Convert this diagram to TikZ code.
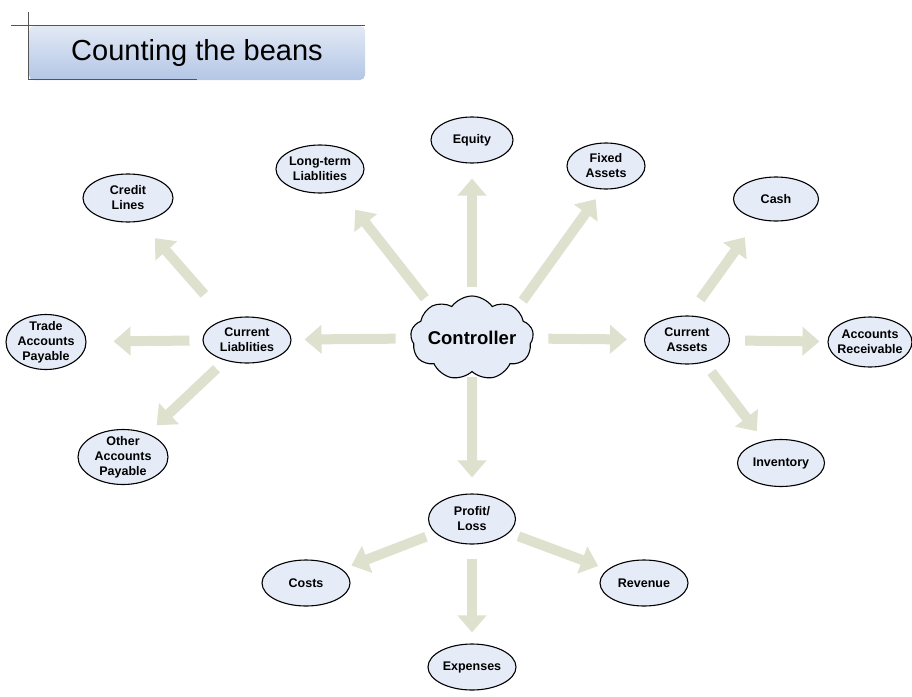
\documentclass[tikz,border=0pt]{standalone}
\usepackage{fontspec}
\setmainfont{Liberation Sans}
\usetikzlibrary{arrows.meta,positioning,shapes.geometric,shapes.symbols}
\definecolor{beanfill}{HTML}{E5EBF7}
\definecolor{flowcol}{HTML}{DDE1CE}
\definecolor{bartop}{HTML}{E2E9F5}
\definecolor{barbot}{HTML}{B3C6E5}
\definecolor{rulecol}{HTML}{555555}
\tikzset{
  bean/.style={ellipse, draw, line width=1.1pt, fill=beanfill, minimum width=88pt, minimum height=46pt, inner sep=0pt, label={[beantext]center:#1}},
  beantext/.style={font=\fontsize{12.5}{15}\selectfont\bfseries, align=center, inner sep=0pt},
  boss/.style={cloud, cloud puffs=9, cloud puff arc=110, cloud ignores aspect, draw, line width=1.1pt, fill=beanfill, inner sep=0pt, minimum width=123pt, minimum height=84pt, label={[bosstext]center:#1}},
  bosstext/.style={font=\fontsize{18.5}{20}\selectfont\bfseries, inner sep=0pt},
  flow/.style={line width=10pt, draw=flowcol, -{Triangle[width=28pt,length=17pt]}, shorten <=12pt, shorten >=12pt},
}
\begin{document}
\begin{tikzpicture}[x=1pt, y=-1pt]
  \useasboundingbox (0,0) rectangle (912,696);

  %% === Title bar ===
  \shade[top color=bartop, bottom color=barbot, rounded corners=5pt] (29,26) rectangle (365,80);
  \draw[rulecol, line width=0.8pt] (11,25) -- (365,25);
  \draw[rulecol, line width=0.8pt] (28,12) -- (28,79) -- (197,79);
  \node[font=\fontsize{29}{32}\selectfont] (title) at (197,53) {Counting the beans};

  %% === Centre ===
  \node[boss=Controller] (ctl) at (472,338) {};

  % Top row
  \node[bean=Equity, minimum width=82pt] (eq) at (472,140) {};
  \node[bean={Fixed\\Assets}, minimum width=78pt] (fa) at (606,166) {};
  \node[bean={Long-term\\Liablities}, minimum height=48pt] (ltl) at (320,169) {};

  % Liabilities side
  \node[bean={Current\\Liablities}] (cl) at (247,340) {};
  \node[bean={Credit\\Lines}, minimum width=90pt, minimum height=48pt] (cr) at (128,198) {};
  \node[bean={Trade\\Accounts\\Payable}, minimum width=80pt, minimum height=55pt] (tap) at (46,342) {};
  \node[bean={Other\\Accounts\\Payable}, minimum width=90pt, minimum height=55pt] (oap) at (123,457) {};

  % Assets side
  \node[bean={Current\\Assets}, minimum width=85pt, minimum height=48pt] (ca) at (687,340) {};
  \node[bean=Cash, minimum width=85pt, minimum height=44pt] (cash) at (776,199) {};
  \node[bean={Accounts\\Receivable}, minimum width=84pt, minimum height=50pt] (ar) at (870,342) {};
  \node[bean=Inventory, minimum width=87pt, minimum height=47pt] (inv) at (781,463) {};

  % Profit side
  \node[bean={Profit/\\Loss}, minimum width=87pt, minimum height=50pt] (pl) at (472,519) {};
  \node[bean=Costs] (cost) at (306,583) {};
  \node[bean=Revenue] (rev) at (644,583) {};
  \node[bean=Expenses] (exp) at (472,667) {};

  %% === Flows ===
  \draw[flow, shorten <=8pt, shorten >=15pt] (ctl) -- (eq);
  \draw[flow, shorten <=10pt, shorten >=12pt] (ctl.33) -- (fa.262);
  \draw[flow, shorten <=10pt, shorten >=24pt] (ctl.142) -- (ltl.313);
  \draw[flow, shorten <=15pt, shorten >=13pt] (ctl) -- (cl);
  \draw[flow, shorten <=15pt, shorten >=17pt] (ctl) -- (ca);
  \draw[flow, shorten <=5pt, shorten >=16pt] (ctl) -- (pl);

  \draw[flow, shorten <=33pt, shorten >=22pt] (cl.135) -- (cr.298);
  \draw[flow, shorten <=13pt, shorten >=27pt] (cl) -- (tap);
  \draw[flow] (cl) -- (oap);

  \draw[flow, shorten <=20pt, shorten >=22pt] (ca.86) -- (cash.228);
  \draw[flow, shorten <=15pt, shorten >=8pt] (ca) -- (ar);
  \draw[flow] (ca) -- (inv);

  \draw[flow, shorten <=10pt, shorten >=10pt] (pl) -- (cost);
  \draw[flow, shorten <=10pt, shorten >=10pt] (pl) -- (rev);
  \draw[flow, shorten <=14pt, shorten >=11pt] (pl) -- (exp);
\end{tikzpicture}
\end{document}
